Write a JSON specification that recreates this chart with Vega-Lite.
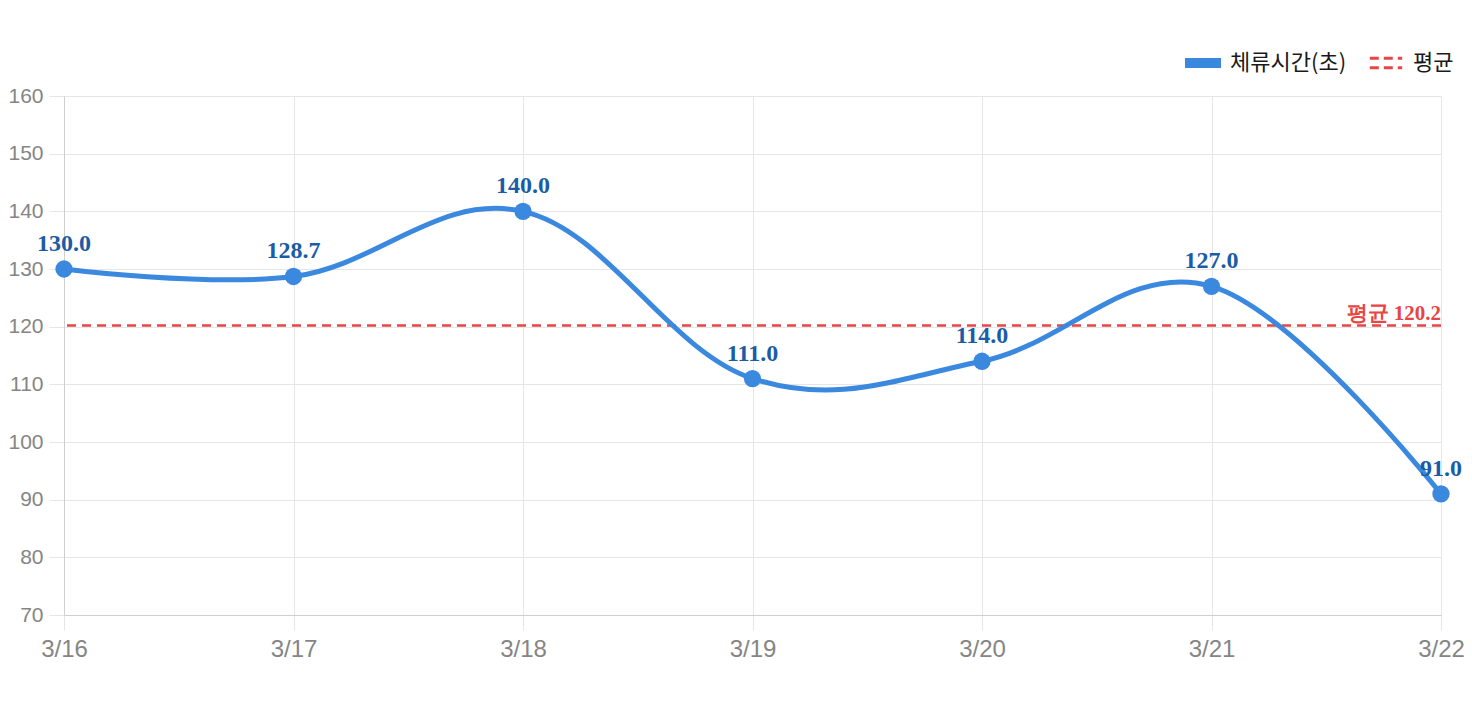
{
  "$schema": "https://vega.github.io/schema/vega-lite/v6.json",
  "width": 1377,
  "height": 519,
  "autosize": {"type": "none"},
  "padding": {"left": 64, "top": 96, "right": 31, "bottom": 89},
  "background": "white",
  "config": {"view": {"stroke": null}, "font": "Liberation Sans"},
  "data": {
    "values": [
      {"date": "3/16", "value": 130.0},
      {"date": "3/17", "value": 128.7},
      {"date": "3/18", "value": 140.0},
      {"date": "3/19", "value": 111.0},
      {"date": "3/20", "value": 114.0},
      {"date": "3/21", "value": 127.0},
      {"date": "3/22", "value": 91.0}
    ]
  },
  "encoding": {
    "x": {
      "field": "date",
      "type": "ordinal",
      "scale": {"type": "point", "padding": 0},
      "axis": {
        "title": null,
        "labelAngle": 0,
        "grid": true,
        "gridColor": "#e6e6e6",
        "tickColor": "#e6e6e6",
        "tickSize": 15,
        "domainColor": "#cfcfcf",
        "labelPadding": 7,
        "labelFontSize": 24,
        "labelColor": "#858585",
        "labelFont": "Liberation Sans"
      }
    },
    "y": {
      "field": "value",
      "type": "quantitative",
      "scale": {"domain": [70, 160], "nice": false, "zero": false},
      "axis": {
        "title": null,
        "values": [70, 80, 90, 100, 110, 120, 130, 140, 150, 160],
        "grid": true,
        "gridColor": "#e6e6e6",
        "tickColor": "#e6e6e6",
        "tickSize": 15,
        "domainColor": "#cfcfcf",
        "labelPadding": 6,
        "labelFontSize": 21,
        "labelColor": "#858585",
        "labelFont": "Liberation Sans"
      }
    }
  },
  "layer": [
    {
      "data": {"values": [{"date": "3/22", "avg": 120.2, "label": "평균 120.2"}]},
      "mark": {"type": "rule", "strokeDash": [9, 6], "strokeWidth": 2.5},
      "encoding": {
        "x": null,
        "y": {"field": "avg", "type": "quantitative"},
        "color": {"datum": "평균"}
      }
    },
    {
      "mark": {"type": "line", "interpolate": "cardinal", "tension": -0.1, "strokeWidth": 5},
      "encoding": {
        "color": {
          "datum": "체류시간(초)",
          "scale": {"domain": ["체류시간(초)", "평균"], "range": ["#3b89df", "#e84545"]},
          "legend": {
            "title": null,
            "orient": "none",
            "direction": "horizontal",
            "legendX": 1128,
            "legendY": -44,
            "symbolType": "M-1,-0.28H1V0.28H-1Z",
            "symbolSize": 1296,
            "labelFont": "Noto Sans CJK KR",
            "labelFontSize": 22,
            "labelColor": "#1a1a1a",
            "labelOffset": 16,
            "columnPadding": 16,
            "labelBaseline": "middle",
            "encode": {
              "symbols": {
                "update": {
                  "shape": {"signal": "datum.value === '평균' ? 'M-0.9,-0.26H0.9M-0.9,0.26H0.9' : 'M-1,-0.28H1V0.28H-1Z'"},
                  "fill": {"signal": "datum.value === '평균' ? 'transparent' : '#3b89df'"},
                  "stroke": {"signal": "datum.value === '평균' ? '#e84545' : '#3b89df'"},
                  "strokeWidth": {"signal": "datum.value === '평균' ? 3 : 0"},
                  "strokeDash": {"signal": "datum.value === '평균' ? [9, 5] : [1, 0]"},
                  "opacity": {"value": 1}
                }
              }
            }
          }
        }
      }
    },
    {
      "mark": {"type": "point", "filled": true, "size": 300, "opacity": 1, "color": "#3b89df"}
    },
    {
      "mark": {
        "type": "text",
        "font": "Liberation Serif",
        "fontWeight": "bold",
        "fontSize": 24,
        "color": "#1a5ca6",
        "baseline": "alphabetic",
        "dy": -18
      },
      "encoding": {"text": {"field": "value", "type": "quantitative", "format": ".1f"}}
    },
    {
      "data": {"values": [{"date": "3/22", "avg": 120.2, "label": "평균 120.2"}]},
      "mark": {
        "type": "text",
        "font": "Liberation Serif",
        "fontWeight": "bold",
        "fontSize": 21,
        "color": "#e84545",
        "align": "right",
        "baseline": "alphabetic",
        "dy": -6
      },
      "encoding": {
        "y": {"field": "avg", "type": "quantitative"},
        "text": {"field": "label"}
      }
    }
  ]
}
